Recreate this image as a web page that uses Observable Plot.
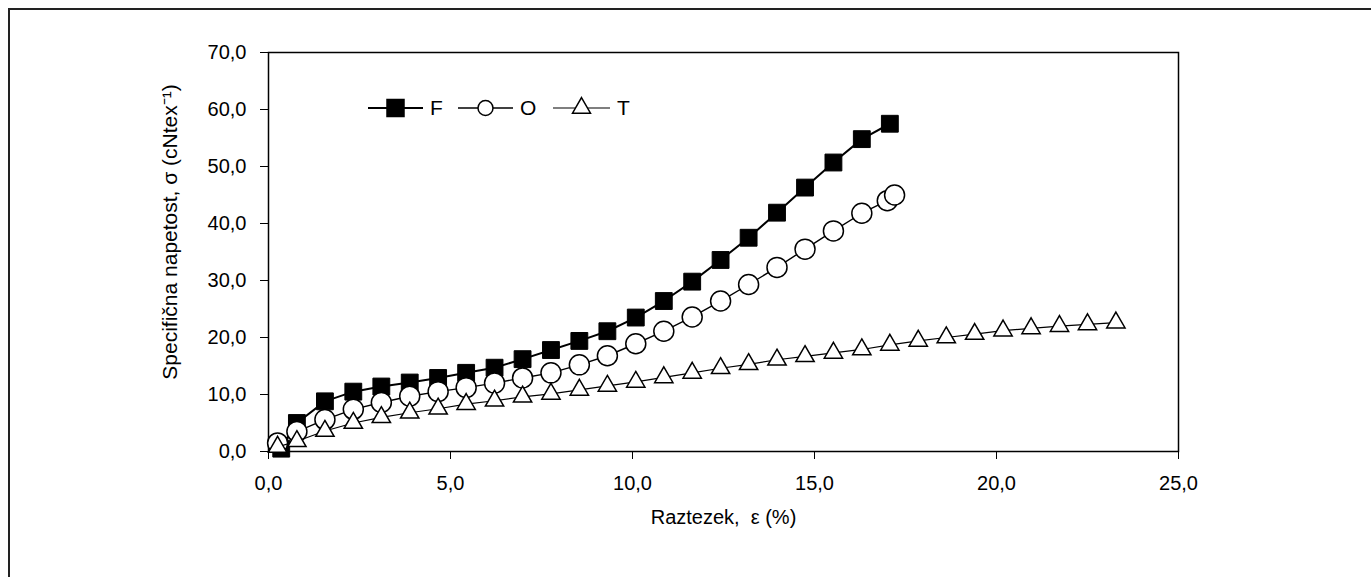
<!DOCTYPE html>
<html><head><meta charset="utf-8">
<script src="https://cdn.jsdelivr.net/npm/d3@7"></script>
<script src="https://cdn.jsdelivr.net/npm/@observablehq/plot@0.6"></script>
<style>
body{margin:0;background:#fff;}
#wrap{position:relative;width:1371px;height:577px;overflow:hidden;font-family:"Liberation Sans",Arial,sans-serif;background:#fff;}
#frame{position:absolute;left:8px;top:8px;width:1400px;height:600px;border-top:2px solid #222;border-left:2px solid #222;}
#chart{position:absolute;left:0;top:0;}
#legend{position:absolute;left:0;top:0;}
</style></head><body>
<div id="wrap"><div id="frame"></div><div id="chart"></div><svg id="legend" width="1371" height="577"></svg></div>
<script>
// Strain (%) values
const xF = [0.35, 0.78, 1.55, 2.33, 3.10, 3.88, 4.66, 5.43, 6.21, 6.98, 7.76, 8.54, 9.31, 10.09, 10.86, 11.64, 12.42, 13.19, 13.97, 14.74, 15.52, 16.30, 17.07];
const yF = [0.5, 5.0, 8.8, 10.5, 11.4, 12.1, 12.9, 13.8, 14.7, 16.2, 17.8, 19.4, 21.1, 23.5, 26.4, 29.8, 33.6, 37.5, 41.9, 46.3, 50.7, 54.8, 57.5];
const xO = [0.25, 0.78, 1.55, 2.33, 3.10, 3.88, 4.66, 5.43, 6.21, 6.98, 7.76, 8.54, 9.31, 10.09, 10.86, 11.64, 12.42, 13.19, 13.97, 14.74, 15.52, 16.30, 17.0, 17.2];
const yO = [1.5, 3.5, 5.6, 7.4, 8.6, 9.7, 10.5, 11.2, 12.0, 12.9, 13.8, 15.2, 16.8, 18.9, 21.1, 23.6, 26.4, 29.3, 32.3, 35.5, 38.7, 41.8, 44.0, 45.0];
const xT = [0.25, 0.78, 1.55, 2.33, 3.10, 3.88, 4.66, 5.43, 6.21, 6.98, 7.76, 8.54, 9.31, 10.09, 10.86, 11.64, 12.42, 13.19, 13.97, 14.74, 15.52, 16.30, 17.07, 17.85, 18.62, 19.40, 20.18, 20.95, 21.73, 22.50, 23.28];
const yT = [0.8, 1.8, 3.6, 5.0, 6.0, 6.8, 7.5, 8.3, 8.9, 9.6, 10.1, 10.8, 11.5, 12.2, 13.0, 13.8, 14.6, 15.3, 16.1, 16.7, 17.3, 17.9, 18.7, 19.4, 20.0, 20.6, 21.2, 21.6, 22.0, 22.3, 22.6];
const seriesNames = ["F", "O", "T"];
const xTicks = [0, 5, 10, 15, 20, 25];
const yTicks = [0, 10, 20, 30, 40, 50, 60, 70];
const xLabel = "Raztezek,  ε (%)";
const yLabel = "Specifična napetost, σ (cNtex⁻¹)";

const fmt = d => d.toFixed(1).replace(".", ",");
const rows = (xs, ys) => xs.map((x, i) => ({x, y: ys[i]}));
const F = rows(xF, yF), O = rows(xO, yO), T = rows(xT, yT);

const chart = Plot.plot({
  width: 1371, height: 577,
  marginLeft: 268, marginRight: 193, marginTop: 52, marginBottom: 126,
  style: {fontFamily: "'Liberation Sans', Arial, sans-serif", fontSize: "20px", color: "#000", background: "transparent"},
  x: {domain: [0, 25]},
  y: {domain: [0, 70]},
  marks: [
    Plot.frame({stroke: "#000", strokeWidth: 1.5}),
    Plot.axisX({ticks: xTicks, tickFormat: fmt, tickSize: 8, tickPadding: 16, label: xLabel, labelAnchor: "center", labelOffset: 72, labelArrow: "none", fontSize: 20}),
    Plot.axisY({ticks: yTicks, tickFormat: fmt, tickSize: 8, tickPadding: 14, label: null, fontSize: 20}),
    Plot.line(F, {x: "x", y: "y", stroke: "#000", strokeWidth: 2}),
    Plot.dot(F, {x: "x", y: "y", symbol: "square", r: 9.5, fill: "#000", stroke: "#000", strokeWidth: 1}),
    Plot.line(O, {x: "x", y: "y", stroke: "#000", strokeWidth: 1.4}),
    Plot.dot(O, {x: "x", y: "y", symbol: "circle", r: 10, fill: "#fff", stroke: "#000", strokeWidth: 1.5}),
    Plot.line(T, {x: "x", y: "y", stroke: "#000", strokeWidth: 1.2}),
    Plot.dot(T, {x: "x", y: "y", symbol: "triangle", r: 6.8, fill: "#fff", stroke: "#000", strokeWidth: 1.5})
  ]
});
document.getElementById("chart").appendChild(chart);

// Y axis title
d3.select(chart).append("text")
  .attr("transform", "translate(170,232) rotate(-90)")
  .attr("text-anchor", "middle").attr("dy", "0.35em")
  .attr("font-size", 21).attr("font-family", "'Liberation Sans', Arial, sans-serif")
  .attr("fill", "#000").text(yLabel);

// Legend
const lg = d3.select("#legend");
const items = [
  {name: seriesNames[0], x1: 368, x2: 423, type: d3.symbolSquare, size: 17 * 17, fill: "#000", sw: 2},
  {name: seriesNames[1], x1: 458, x2: 513, type: d3.symbolCircle, size: Math.PI * 7.5 * 7.5, fill: "#fff", sw: 1.4},
  {name: seriesNames[2], x1: 553, x2: 610, type: d3.symbolTriangle, size: 140, fill: "#fff", sw: 1.2}
];
const ly = 108;
for (const it of items) {
  lg.append("line").attr("x1", it.x1).attr("x2", it.x2).attr("y1", ly).attr("y2", ly).attr("stroke", "#000").attr("stroke-width", it.sw);
  lg.append("path").attr("d", d3.symbol(it.type, it.size)()).attr("transform", `translate(${(it.x1 + it.x2) / 2},${ly})`)
    .attr("fill", it.fill).attr("stroke", "#000").attr("stroke-width", 1.5);
  lg.append("text").attr("x", it.x2 + 7).attr("y", ly).attr("dy", "0.35em").attr("font-size", 21)
    .attr("font-family", "'Liberation Sans', Arial, sans-serif").text(it.name);
}
</script>
</body></html>
